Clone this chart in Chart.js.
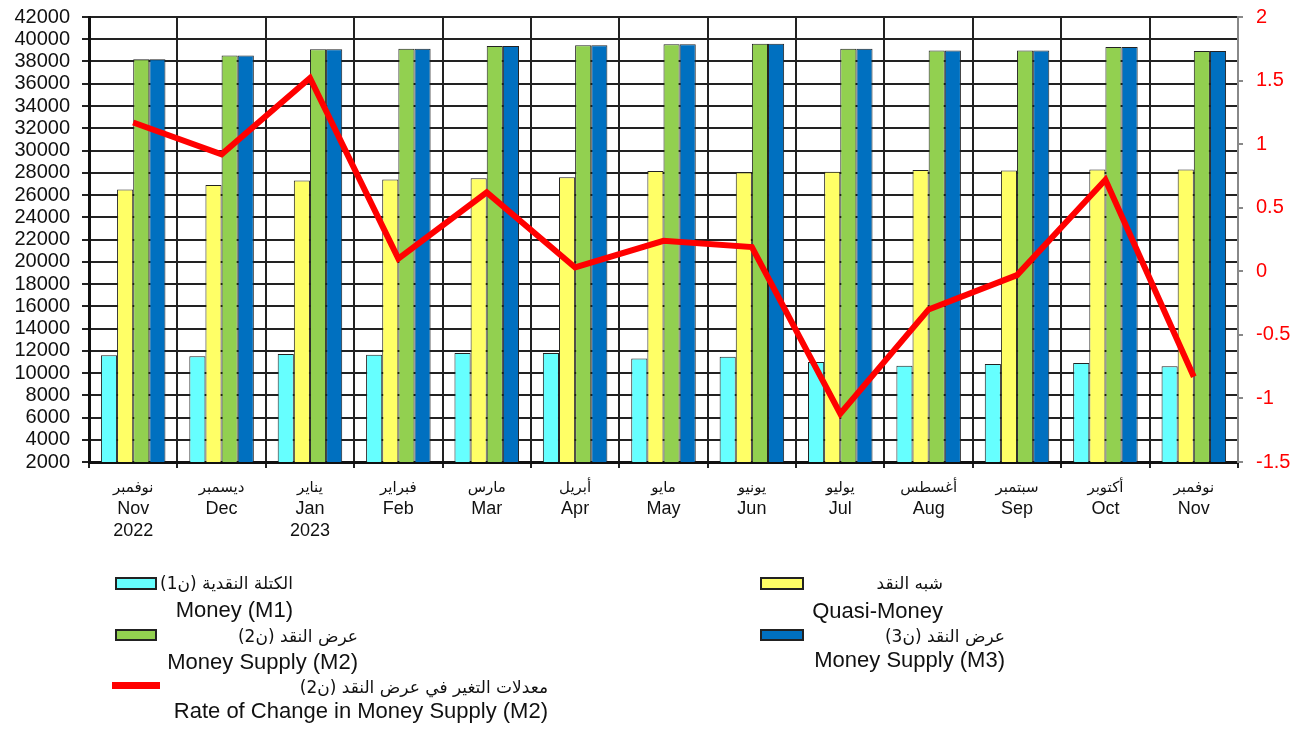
<!DOCTYPE html>
<html><head><meta charset="utf-8">
<script src="https://cdn.jsdelivr.net/npm/chart.js@4.4.0/dist/chart.umd.min.js"></script>
<style>
html,body{margin:0;padding:0;background:#fff;}
#wrap{position:relative;width:1313px;height:729px;overflow:hidden;}
#c{position:absolute;left:0;top:0;}
.t{position:absolute;white-space:nowrap;color:#111;height:26px;line-height:26px;text-align:right;}
.ar{font-family:"DejaVu Sans","Noto Sans",sans-serif;font-size:17px;direction:rtl;}
.en{font-family:"Liberation Sans",Arial,sans-serif;font-size:22px;}
.box{position:absolute;box-sizing:border-box;border:2px solid #222;}
</style></head>
<body><div id="wrap"><canvas id="c" width="1313" height="729"></canvas></div>
<script>
// ---- data ----
const monthsAr = ['نوفمبر','ديسمبر','يناير','فبراير','مارس','أبريل','مايو','يونيو','يوليو','أغسطس','سبتمبر','أكتوبر','نوفمبر'];
const monthsEn = ['Nov','Dec','Jan','Feb','Mar','Apr','May','Jun','Jul','Aug','Sep','Oct','Nov'];
const years    = ['2022','','2023','','','','','','','','','',''];
const m1    = [11600,11500,11700,11650,11800,11800,11300,11450,11000,10650,10800,10900,10600];
const quasi = [26500,26900,27300,27400,27500,27600,28150,28050,28100,28250,28200,28300,28300];
const m2    = [38200,38550,39100,39150,39400,39450,39550,39600,39150,39000,39000,39300,38950];
const m3    = [38200,38550,39100,39150,39400,39450,39550,39600,39150,39000,39000,39300,38950];
const rate  = [1.17,0.92,1.52,0.10,0.62,0.03,0.24,0.19,-1.12,-0.30,-0.03,0.72,-0.83];
const leftTicks  = {min:2000, max:42000, step:2000};
const rightTicks = {min:-1.5, max:2, step:0.5};
const namesAr = ['الكتلة النقدية (ن1)','شبه النقد','عرض النقد (ن2)','عرض النقد (ن3)','معدلات التغير في عرض النقد (ن2)'];
const namesEn = ['Money (M1)','Quasi-Money','Money Supply (M2)','Money Supply (M3)','Rate of Change in Money Supply (M2)'];
const colors  = ['#66FFFF','#FFFF66','#92D050','#0070C0','#FF0000'];

// ---- x labels plugin ----
const xLabels = {
  id:'xLabels',
  afterDraw(chart){
    const ctx = chart.ctx, xs = chart.scales.x;
    ctx.save();
    ctx.fillStyle = '#111';
    ctx.textAlign = 'center';
    ctx.textBaseline = 'middle';
    monthsEn.forEach((m,i)=>{
      const x = xs.getPixelForValue(i);
      ctx.font = '15px "DejaVu Sans", sans-serif';
      ctx.fillText(monthsAr[i], x, 488);
      ctx.font = '18px "Liberation Sans", Arial, sans-serif';
      ctx.fillText(m, x, 509);
      if (years[i]) ctx.fillText(years[i], x, 531);
    });
    ctx.restore();
  }
};

const barCommon = {borderColor:'#222', borderWidth:1, categoryPercentage:0.73, barPercentage:1.0, yAxisID:'y', order:1};

function fixV(w){ return (s)=>{ s.width = w; s.paddingTop = 0; s.paddingBottom = 0; }; }

new Chart(document.getElementById('c'), {
  type:'bar',
  data:{
    labels: monthsEn,
    datasets:[
      Object.assign({label:namesEn[0], data:m1, backgroundColor:colors[0]}, barCommon),
      Object.assign({label:namesEn[1], data:quasi, backgroundColor:colors[1]}, barCommon),
      Object.assign({label:namesEn[2], data:m2, backgroundColor:colors[2]}, barCommon),
      Object.assign({label:namesEn[3], data:m3, backgroundColor:colors[3]}, barCommon),
      {type:'line', label:namesEn[4], data:rate, yAxisID:'y1', borderColor:colors[4], backgroundColor:colors[4],
       borderWidth:6, pointRadius:0, tension:0, fill:false, order:0, borderJoinStyle:'miter', borderCapStyle:'butt'}
    ]
  },
  options:{
    responsive:false, animation:false,
    layout:{padding:{top:17,left:0,right:0,bottom:0}},
    plugins:{legend:{display:false}, tooltip:{enabled:false}},
    scales:{
      x:{
        offset:true,
        grid:{offset:true, color:(c)=> c.index===monthsEn.length ? 'rgba(0,0,0,0)' : '#222', lineWidth:2, tickLength:6, tickColor:'#222'},
        border:{display:true, color:'#111', width:3},
        ticks:{display:false},
        afterFit:(s)=>{ s.height = 267; s.paddingLeft = 0; s.paddingRight = 0; }
      },
      y:{
        position:'left', min:leftTicks.min, max:leftTicks.max,
        ticks:{stepSize:leftTicks.step, color:'#111', padding:12, font:{family:'"Liberation Sans", Arial, sans-serif', size:20}, autoSkip:false,
               callback:(v)=>String(v)},
        grid:{color:'#222', lineWidth:2, tickLength:7, tickColor:'#222'},
        border:{display:true, color:'#111', width:3},
        afterFit:fixV(89)
      },
      y1:{
        position:'right', min:rightTicks.min, max:rightTicks.max,
        ticks:{stepSize:rightTicks.step, color:'#FF0000', padding:13, font:{family:'"Liberation Sans", Arial, sans-serif', size:20}, autoSkip:false,
               callback:(v)=>String(v)},
        grid:{drawOnChartArea:false, color:'#888', lineWidth:2, tickLength:5},
        border:{display:true, color:'#888', width:2},
        afterFit:fixV(75)
      }
    }
  },
  plugins:[xLabels]
});

// ---- HTML legend ----
const wrap = document.getElementById('wrap');
const legendPos = [
  {kind:'box', x:115, y:577, w:42, h:13, right:293, ar:583, en:610},
  {kind:'box', x:760, y:577, w:44, h:13, right:943, ar:583, en:611},
  {kind:'box', x:115, y:629, w:42, h:12, right:358, ar:636, en:662},
  {kind:'box', x:760, y:629, w:44, h:12, right:1005, ar:636, en:660},
  {kind:'line', x:112, y:682, w:48, h:7, right:548, ar:687, en:711}
];
legendPos.forEach((p,i)=>{
  const b = document.createElement('div');
  b.className = p.kind==='box' ? 'box' : '';
  b.style.cssText += `position:absolute;left:${p.x}px;top:${p.y}px;width:${p.w}px;height:${p.h}px;background:${colors[i]};`;
  wrap.appendChild(b);
  const a = document.createElement('div');
  a.className = 't ar';
  a.style.right = (1313 - p.right) + 'px';
  a.style.top = (p.ar - 13) + 'px';
  a.textContent = namesAr[i];
  wrap.appendChild(a);
  const e = document.createElement('div');
  e.className = 't en';
  e.style.right = (1313 - p.right) + 'px';
  e.style.top = (p.en - 13) + 'px';
  e.textContent = namesEn[i];
  wrap.appendChild(e);
});
</script>
</body></html>
